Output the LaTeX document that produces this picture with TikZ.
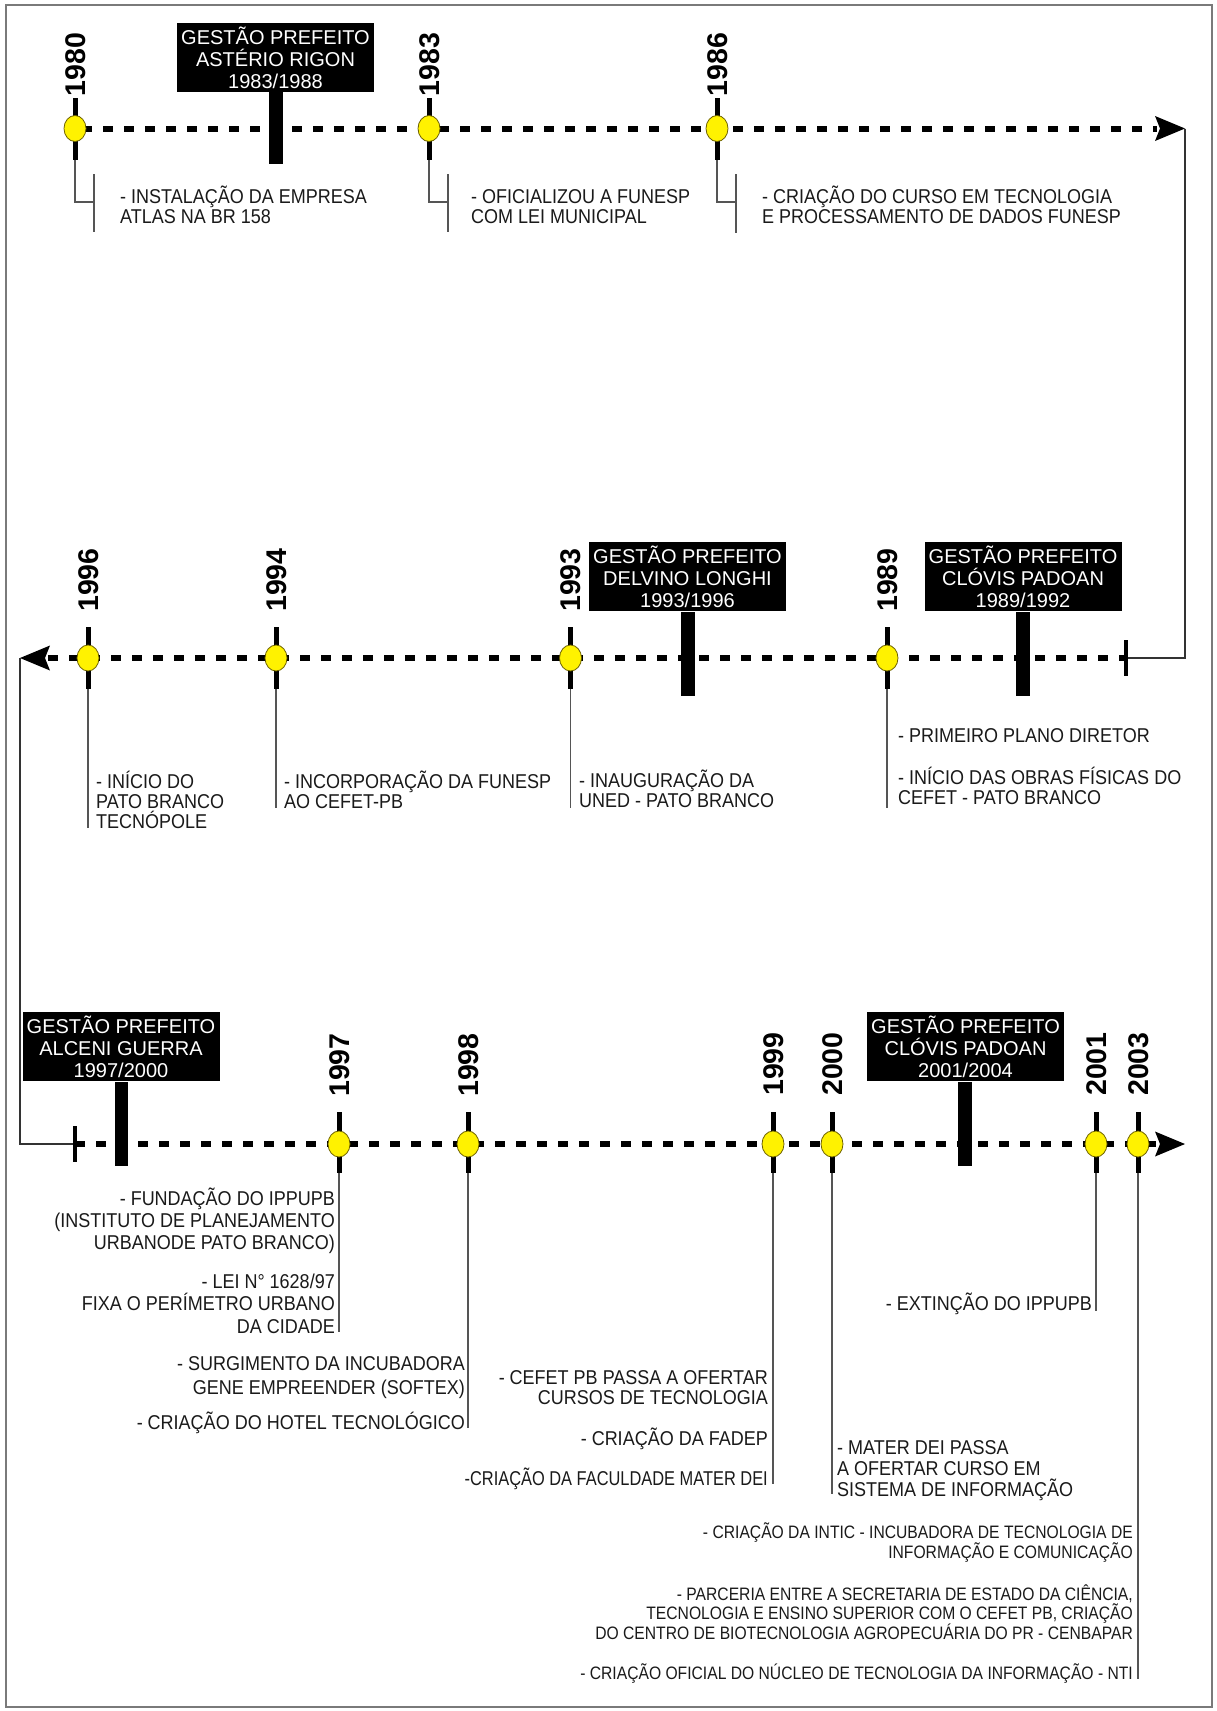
\documentclass[tikz,border=0pt]{standalone}
\usepackage{fontspec}
\setmainfont{Liberation Sans}
\newfontfamily\bodyfont[FakeStretch=0.9]{Liberation Sans}
\newfontfamily\semifont[FakeStretch=0.82]{Liberation Sans}
\newfontfamily\narrowfont[FakeStretch=0.87]{Liberation Sans}
\usetikzlibrary{shapes.geometric}
\definecolor{evyellow}{HTML}{FFF200}
\definecolor{evedge}{HTML}{6E6200}
\definecolor{framegray}{HTML}{7A7A7A}
\definecolor{leadgray}{HTML}{555555}
\definecolor{conngray}{HTML}{333333}
\definecolor{txtgray}{HTML}{1A1A1A}
\newcommand\firstln{\rule{0pt}{19.5pt}}
\newcommand\gfirst{\rule{0pt}{19.5pt}}
\lineskiplimit=-50pt
\begin{document}
\begin{tikzpicture}[x=1pt,y=-1pt,
  tline/.style={line width=6pt, dash pattern=on 10pt off 11pt},
  yrtick/.style={line width=5pt},
  endtick/.style={line width=3.5pt},
  ev/.style={ellipse, fill=evyellow, draw=evedge, line width=0.8pt, minimum width=22pt, minimum height=26pt, inner sep=0pt},
  lead/.style={draw=leadgray, line width=1.1pt},
  conn/.style={draw=conngray, line width=1.6pt},
  yr/.style={rotate=90, font=\fontsize{28.5}{30}\selectfont\bfseries, inner sep=0pt, text height=20.4pt, text depth=0pt},
  gbox/.style={fill=black, minimum width=197pt, minimum height=69pt, inner sep=0pt, anchor=north},
  gtext/.style={text=white, align=center, anchor=north, font=\fontsize{20}{22}\selectfont, inner sep=0pt},
  evtext/.style={text=txtgray, font=\bodyfont\fontsize{20}{#1}\selectfont, inner sep=0pt},
  evtext/.default=20,
  semitext/.style={text=txtgray, font=\semifont\fontsize{20}{20}\selectfont, inner sep=0pt, align=right, anchor=north east},
  ntext/.style={text=txtgray, font=\narrowfont\fontsize{18}{#1}\selectfont, inner sep=0pt, align=right, anchor=north east},
  ntext/.default=19.5
]
\useasboundingbox (0,0) rectangle (1216,1711);
\fill[white] (0,0) rectangle (1216,1711);
\draw[framegray, line width=2pt] (6,5) rectangle (1212,1707);

% ---------------- Row 1 ----------------
\draw[tline] (82,128.5) -- (1157,128.5);
\fill (269,92) rectangle (283,164);
\foreach \x in {75,429,717} {\draw[yrtick] (\x,98) -- (\x,160);}
\node[ev] (e1980) at (75,128.5) {};
\node[ev] (e1983) at (429,128.5) {};
\node[ev] (e1986) at (717,128.5) {};
\coordinate (a1tip) at (1185,128.5);
\fill (a1tip) -- (1155,116) -- (1160,128.5) -- (1155,141) -- cycle;
\node[yr] (y1980) at (75,64.5) {1980};
\node[yr] (y1983) at (429,64.5) {1983};
\node[yr] (y1986) at (717,64.5) {1986};
\node[gbox] (g1) at (275.5,23) {};
\node[gtext] (g1t) at (275.5,24.7) {\gfirst GESTÃO PREFEITO\\ASTÉRIO RIGON\\1983/1988};

\coordinate (b1980) at (75,160); \coordinate (k1980) at (94,202);
\coordinate (b1983) at (429,160); \coordinate (k1983) at (448,202);
\coordinate (b1986) at (717,160); \coordinate (k1986) at (736,202);
\draw[lead] (b1980) |- (k1980); \draw[lead] (94,174) -- (94,232);
\draw[lead] (b1983) |- (k1983); \draw[lead] (448,174) -- (448,232);
\draw[lead] (b1986) |- (k1986); \draw[lead] (736,174) -- (736,233);
\node[evtext=20.5, align=left, anchor=north west] (t1980) at (120,183.7) {\firstln- INSTALAÇÃO DA EMPRESA\\ATLAS NA BR 158};
\node[evtext=20.5, align=left, anchor=north west] (t1983) at (471,183.7) {\firstln- OFICIALIZOU A FUNESP\\COM LEI MUNICIPAL};
\node[evtext=20.5, align=left, anchor=north west] (t1986) at (762,183.7) {\firstln- CRIAÇÃO DO CURSO EM TECNOLOGIA\\E PROCESSAMENTO DE DADOS FUNESP};

% connector row 1 -> row 2
\coordinate (end2) at (1126,658);
\draw[conn] (a1tip) |- (end2);

% ---------------- Row 2 ----------------
\draw[tline] (48,658) -- (1126,658);
\fill (680.5,612) rectangle (694.5,696);
\fill (1016,612) rectangle (1030,696);
\draw[endtick] (1126,640) -- (1126,676);
\foreach \x in {88,276,570.5,887} {\draw[yrtick] (\x,627) -- (\x,689);}
\node[ev] (e1996) at (88,658) {};
\node[ev] (e1994) at (276,658) {};
\node[ev] (e1993) at (570.5,658) {};
\node[ev] (e1989) at (887,658) {};
\coordinate (a2tip) at (20,658);
\fill (a2tip) -- (50,645.5) -- (45,658) -- (50,670.5) -- cycle;
\node[yr] (y1996) at (88,580) {1996};
\node[yr] (y1994) at (276,580) {1994};
\node[yr] (y1993) at (570.5,580) {1993};
\node[yr] (y1989) at (887,580) {1989};
\node[gbox] (g2) at (687.5,542) {};
\node[gtext] (g2t) at (687.5,543.7) {\gfirst GESTÃO PREFEITO\\DELVINO LONGHI\\1993/1996};
\node[gbox] (g3) at (1023,542) {};
\node[gtext] (g3t) at (1023,543.7) {\gfirst GESTÃO PREFEITO\\CLÓVIS PADOAN\\1989/1992};

\coordinate (b1996) at (88,689); \coordinate (k1996) at (88,828);
\coordinate (b1994) at (276,689); \coordinate (k1994) at (276,808);
\coordinate (b1993) at (570.5,689); \coordinate (k1993) at (570.5,808);
\coordinate (b1989) at (887,689); \coordinate (k1989) at (887,808);
\draw[lead] (b1996) -- (k1996);
\draw[lead] (b1994) -- (k1994);
\draw[lead] (b1993) -- (k1993);
\draw[lead] (b1989) -- (k1989);
\node[evtext, align=left, anchor=north west] (t1996) at (96,768.7) {\firstln- INÍCIO DO\\PATO BRANCO\\TECNÓPOLE};
\node[evtext, align=left, anchor=north west] (t1994) at (284,768.7) {\firstln- INCORPORAÇÃO DA FUNESP\\AO CEFET-PB};
\node[evtext, align=left, anchor=north west] (t1993) at (579,767.7) {\firstln- INAUGURAÇÃO DA\\UNED - PATO BRANCO};
\node[evtext, align=left, anchor=north west] (t1989a) at (898,722.7) {\firstln- PRIMEIRO PLANO DIRETOR};
\node[evtext, align=left, anchor=north west] (t1989b) at (898,764.7) {\firstln- INÍCIO DAS OBRAS FÍSICAS DO\\CEFET - PATO BRANCO};

% connector row 2 -> row 3
\coordinate (start3) at (75,1144);
\draw[conn] (a2tip) |- (start3);

% ---------------- Row 3 ----------------
\draw[tline] (75,1144) -- (1157,1144);
\fill (115,1082) rectangle (128,1166);
\fill (958,1082) rectangle (972,1166);
\draw[endtick] (75,1126) -- (75,1162);
\foreach \x in {339,468,773,832,1096,1138} {\draw[yrtick] (\x,1112) -- (\x,1173);}
\node[ev] (e1997) at (339,1144) {};
\node[ev] (e1998) at (468,1144) {};
\node[ev] (e1999) at (773,1144) {};
\node[ev] (e2000) at (832,1144) {};
\node[ev] (e2001) at (1096,1144) {};
\node[ev] (e2003) at (1138,1144) {};
\coordinate (a3tip) at (1185,1144);
\fill (a3tip) -- (1155,1131.5) -- (1160,1144) -- (1155,1156.5) -- cycle;
\node[yr] (y1997) at (339,1065) {1997};
\node[yr] (y1998) at (468,1065) {1998};
\node[yr] (y1999) at (773,1064) {1999};
\node[yr] (y2000) at (832,1064) {2000};
\node[yr] (y2001) at (1096,1064) {2001};
\node[yr] (y2003) at (1138,1064) {2003};
\node[gbox] (g4) at (121,1012) {};
\node[gtext] (g4t) at (121,1013.7) {\gfirst GESTÃO PREFEITO\\ALCENI GUERRA\\1997/2000};
\node[gbox] (g5) at (965.5,1012) {};
\node[gtext] (g5t) at (965.5,1013.7) {\gfirst GESTÃO PREFEITO\\CLÓVIS PADOAN\\2001/2004};

\coordinate (b1997) at (339,1173); \coordinate (k1997) at (339,1332);
\coordinate (b1998) at (468,1173); \coordinate (k1998) at (468,1428);
\coordinate (b1999) at (773,1173); \coordinate (k1999) at (773,1484);
\coordinate (b2000) at (832,1173); \coordinate (k2000) at (832,1494);
\coordinate (b2001) at (1096,1173); \coordinate (k2001) at (1096,1311);
\coordinate (b2003) at (1138,1173); \coordinate (k2003) at (1138,1679);
\draw[lead] (b1997) -- (k1997);
\draw[lead] (b1998) -- (k1998);
\draw[lead] (b1999) -- (k1999);
\draw[lead] (b2000) -- (k2000);
\draw[lead] (b2001) -- (k2001);
\draw[lead] (b2003) -- (k2003);

\node[evtext=22, align=right, anchor=north east] (t1997a) at (335,1185.7) {\firstln- FUNDAÇÃO DO IPPUPB\\(INSTITUTO DE PLANEJAMENTO\\URBANODE PATO BRANCO)};
\node[evtext=22.5, align=right, anchor=north east] (t1997b) at (335,1268.7) {\firstln- LEI N° 1628/97\\FIXA O PERÍMETRO URBANO\\DA CIDADE};
\node[evtext=24, align=right, anchor=north east] (t1998a) at (465,1350.7) {\firstln- SURGIMENTO DA INCUBADORA\\GENE EMPREENDER (SOFTEX)};
\node[evtext, align=right, anchor=north east] (t1998b) at (465,1409.7) {\firstln- CRIAÇÃO DO HOTEL TECNOLÓGICO};
\node[evtext, align=right, anchor=north east] (t1999a) at (768,1365.2) {\firstln- CEFET PB PASSA A OFERTAR\\CURSOS DE TECNOLOGIA};
\node[evtext, align=right, anchor=north east] (t1999b) at (768,1426.2) {\firstln- CRIAÇÃO DA FADEP};
\node[semitext] (t1999c) at (768,1465.7) {\firstln-CRIAÇÃO DA FACULDADE MATER DEI};
\node[evtext=21, align=left, anchor=north west] (t2000) at (837,1435.2) {\firstln- MATER DEI PASSA\\A OFERTAR CURSO EM\\SISTEMA DE INFORMAÇÃO};
\node[evtext, align=right, anchor=north east] (t2001) at (1092,1290.7) {\firstln- EXTINÇÃO DO IPPUPB};
\node[ntext] (t2003a) at (1133,1518.9) {\firstln- CRIAÇÃO DA INTIC - INCUBADORA DE TECNOLOGIA DE\\INFORMAÇÃO E COMUNICAÇÃO};
\node[ntext=19.7] (t2003b) at (1133,1580.4) {\firstln- PARCERIA ENTRE A SECRETARIA DE ESTADO DA CIÊNCIA,\\TECNOLOGIA E ENSINO SUPERIOR COM O CEFET PB, CRIAÇÃO\\DO CENTRO DE BIOTECNOLOGIA AGROPECUÁRIA DO PR - CENBAPAR};
\node[ntext] (t2003c) at (1133,1659.4) {\firstln- CRIAÇÃO OFICIAL DO NÚCLEO DE TECNOLOGIA DA INFORMAÇÃO - NTI};
\end{tikzpicture}
\end{document}
